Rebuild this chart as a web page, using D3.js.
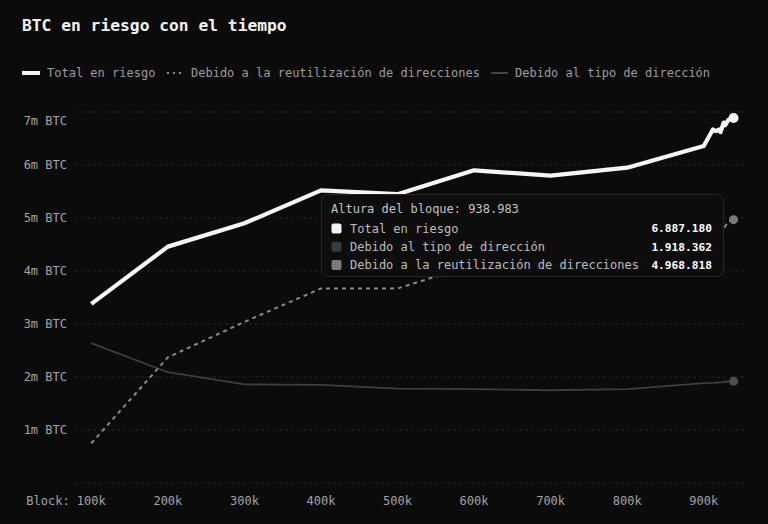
<!DOCTYPE html>
<html>
<head>
<meta charset="utf-8">
<script src="https://cdn.jsdelivr.net/npm/d3@7/dist/d3.min.js"></script>
<style>
  html, body { margin: 0; padding: 0; background: #0b0b0b; }
  svg { display: block; }
  text { font-family: "DejaVu Sans Mono", "Liberation Mono", monospace; }
</style>
</head>
<body>
<svg id="chart" width="768" height="524"></svg>
<script>
// ---- data ----
const blocks = [100000, 200000, 300000, 400000, 500000, 600000, 700000, 800000, 900000,
                912000, 916000, 920000, 922000, 926000, 928000, 932000, 938983];
const totalAtRisk = [3380000, 4460000, 4900000, 5520000, 5450000, 5900000, 5800000, 5950000, 6360000,
                     6670000, 6640000, 6670000, 6620000, 6800000, 6750000, 6850000, 6887180];
const dueToAddressType = [2640000, 2090000, 1860000, 1850000, 1780000, 1770000, 1750000, 1770000, 1885000,
                          1890000, 1895000, 1900000, 1900000, 1905000, 1910000, 1912000, 1918362];
const dueToAddressReuse = [750000, 2370000, 3040000, 3670000, 3670000, 4120000, 4050000, 4180000, 4475000,
                           4780000, 4745000, 4770000, 4720000, 4895000, 4840000, 4938000, 4968818];
const yTickValues = [0, 1000000, 2000000, 3000000, 4000000, 5000000, 6000000, 7000000];
const yTickLabels = ["", "1m BTC", "2m BTC", "3m BTC", "4m BTC", "5m BTC", "6m BTC", "7m BTC"];
const xTickValues = [100000, 200000, 300000, 400000, 500000, 600000, 700000, 800000, 900000];
const xTickLabels = ["100k", "200k", "300k", "400k", "500k", "600k", "700k", "800k", "900k"];
const seriesNames = ["Total en riesgo", "Debido a la reutilización de direcciones", "Debido al tipo de dirección"];
const tooltipTitle = "Altura del bloque";

// ---- setup ----
const svg = d3.select("#chart");
const W = 768, H = 524;
svg.append("rect").attr("width", W).attr("height", H).attr("fill", "#0b0b0b");

const x = d3.scaleLinear().domain([80000, 950000]).range([76, 742]);
const y = d3.scaleLinear().domain([0, 7000000]).range([483, 112]);

const locale = d3.formatLocale({ decimal: ",", thousands: ".", grouping: [3], currency: ["", ""] });
const fmt = locale.format(",d");

// title
svg.append("text").attr("x", 22).attr("y", 31)
  .attr("fill", "#f2f2f2").attr("font-size", 16.3).attr("font-weight", "bold")
  .text("BTC en riesgo con el tiempo");

// legend
const lg = svg.append("g");
const legY = 73;
lg.append("line").attr("x1", 22).attr("x2", 40).attr("y1", legY).attr("y2", legY)
  .attr("stroke", "#f5f5f5").attr("stroke-width", 4);
lg.append("text").attr("x", 47).attr("y", legY).attr("dy", "0.35em")
  .attr("fill", "#9c9c9c").attr("font-size", 12).text(seriesNames[0]);
lg.append("line").attr("x1", 167).attr("x2", 185).attr("y1", legY).attr("y2", legY)
  .attr("stroke", "#8a8a8a").attr("stroke-width", 2).attr("stroke-dasharray", "2,4");
lg.append("text").attr("x", 191).attr("y", legY).attr("dy", "0.35em")
  .attr("fill", "#9c9c9c").attr("font-size", 12).text(seriesNames[1]);
lg.append("line").attr("x1", 491).attr("x2", 508).attr("y1", legY).attr("y2", legY)
  .attr("stroke", "#444").attr("stroke-width", 2);
lg.append("text").attr("x", 515).attr("y", legY).attr("dy", "0.35em")
  .attr("fill", "#9c9c9c").attr("font-size", 12).text(seriesNames[2]);

// grid
const grid = svg.append("g");
grid.selectAll("line").data(yTickValues).join("line")
  .attr("x1", 75).attr("x2", 744)
  .attr("y1", d => y(d)).attr("y2", d => y(d))
  .attr("stroke", "#232323").attr("stroke-width", 1).attr("stroke-dasharray", "3,3");

// y labels
svg.append("g").selectAll("text").data(yTickValues).join("text")
  .attr("x", 67)
  .attr("y", (d, i) => y(d) + (i === yTickValues.length - 1 ? 9 : 0))
  .attr("dy", "0.35em").attr("text-anchor", "end")
  .attr("fill", "#a0a4a8").attr("font-size", 12)
  .text((d, i) => yTickLabels[i]);

// x labels
svg.append("g").selectAll("text").data(xTickValues).join("text")
  .attr("x", d => x(d)).attr("y", 501).attr("dy", "0.35em")
  .attr("text-anchor", "middle").attr("fill", "#a0a4a8").attr("font-size", 12)
  .text((d, i) => xTickLabels[i]);
svg.append("text").attr("x", x(xTickValues[0]) - 14.4 - 7.2).attr("y", 501).attr("dy", "0.35em")
  .attr("text-anchor", "end").attr("fill", "#a0a4a8").attr("font-size", 12).text("Block:");

// lines
const mk = arr => d3.line().x((d, i) => x(blocks[i])).y(d => y(d))(arr);
svg.append("path").attr("d", mk(dueToAddressType)).attr("fill", "none")
  .attr("stroke", "#3e3e3e").attr("stroke-width", 1.8).attr("stroke-linejoin", "round");
svg.append("path").attr("d", mk(dueToAddressReuse)).attr("fill", "none")
  .attr("stroke", "#8a8a8a").attr("stroke-width", 2).attr("stroke-dasharray", "4,4");
svg.append("path").attr("d", mk(totalAtRisk)).attr("fill", "none")
  .attr("stroke", "#f5f5f5").attr("stroke-width", 4.2).attr("stroke-linejoin", "round");

// end dots
const last = blocks.length - 1;
svg.append("circle").attr("cx", x(blocks[last])).attr("cy", y(dueToAddressType[last])).attr("r", 4.5).attr("fill", "#4e4e4e");
svg.append("circle").attr("cx", x(blocks[last])).attr("cy", y(dueToAddressReuse[last])).attr("r", 4.5).attr("fill", "#7a7a7a");
svg.append("circle").attr("cx", x(blocks[last])).attr("cy", y(totalAtRisk[last])).attr("r", 5).attr("fill", "#f5f5f5");

// tooltip
const tt = svg.append("g");
tt.append("rect").attr("x", 321.5).attr("y", 194.5).attr("width", 402).attr("height", 82).attr("rx", 6)
  .attr("fill", "#0d0d0d").attr("fill-opacity", 0.97).attr("stroke", "#262626");
tt.append("text").attr("x", 331).attr("y", 209).attr("dy", "0.35em")
  .attr("fill", "#c4c4c4").attr("font-size", 12)
  .text(tooltipTitle + ": " + fmt(blocks[last]));
const rows = [
  { name: seriesNames[0], color: "#f2f2f2", v: totalAtRisk[last] },
  { name: seriesNames[2], color: "#3a3a3a", v: dueToAddressType[last] },
  { name: seriesNames[1], color: "#7a7a7a", v: dueToAddressReuse[last] }
];
rows.forEach((r, i) => {
  const cy = 228.5 + i * 18.2;
  tt.append("rect").attr("x", 331.5).attr("y", cy - 5).attr("width", 10).attr("height", 10).attr("rx", 2)
    .attr("fill", r.color);
  tt.append("text").attr("x", 350).attr("y", cy).attr("dy", "0.35em")
    .attr("fill", "#bdbdbd").attr("font-size", 12).text(r.name);
  tt.append("text").attr("x", 712).attr("y", cy).attr("dy", "0.35em").attr("text-anchor", "end")
    .attr("fill", "#ffffff").attr("font-size", 11.2).attr("font-weight", "bold").text(fmt(r.v));
});
</script>
</body>
</html>
